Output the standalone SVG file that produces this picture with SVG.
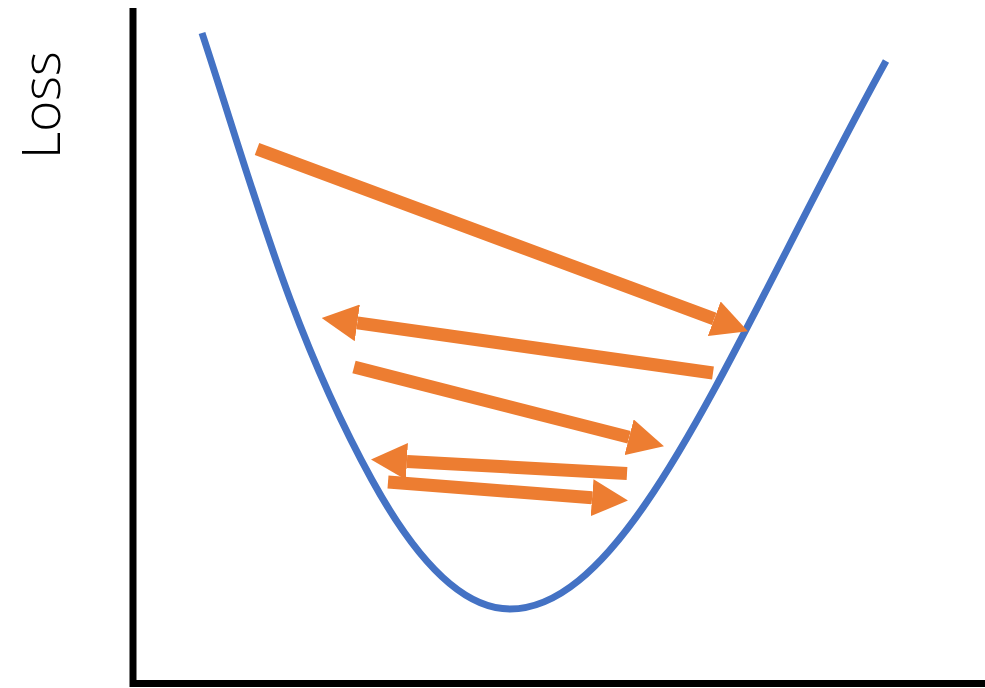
<svg xmlns="http://www.w3.org/2000/svg" width="985" height="688" viewBox="0 0 985 688">
<style>
.axis{stroke:#000;stroke-width:7;fill:none}
.curve{stroke:#4472C4;stroke-width:7;fill:none}
.shaft{stroke:#ED7D31;stroke-width:13;fill:none;stroke-linecap:butt}
.label{font-family:"Open Sans","Liberation Sans",sans-serif;font-weight:300;font-size:53px;fill:#000}
</style>
<defs>
<marker id="head" markerUnits="userSpaceOnUse" markerWidth="36" markerHeight="37" viewBox="0 0 35 36" refX="0" refY="18" orient="auto">
<path d="M0,0 L35,18 L0,36 Z" fill="#ED7D31"/>
</marker>
</defs>
<rect width="985" height="688" fill="#fff"/>
<g id="axes">
<line class="axis" x1="133" y1="8" x2="133" y2="687"/>
<line class="axis" x1="130" y1="683.5" x2="985" y2="683.5"/>
</g>
<g id="label-loss">
<text class="label" transform="translate(60,159) rotate(-90)">Loss</text>
</g>
<g id="loss-curve">
<path class="curve" d="M202,33 C251.5,183 289.5,330 372,480 C399.5,530 450,609 510,609 C632,609 735,335 886,61"/>
</g>
<g id="connectors">
<line class="shaft" x1="257" y1="149" x2="714.2" y2="318.8" marker-end="url(#head)"/>
<line class="shaft" x1="713" y1="373" x2="357.3" y2="322.9" marker-end="url(#head)"/>
<line class="shaft" x1="354" y1="367" x2="629.1" y2="437.3" marker-end="url(#head)"/>
<line class="shaft" x1="627" y1="473.5" x2="406.9" y2="461.4" marker-end="url(#head)"/>
<line class="shaft" x1="388" y1="482" x2="592.1" y2="497.8" marker-end="url(#head)"/>
</g>
</svg>
